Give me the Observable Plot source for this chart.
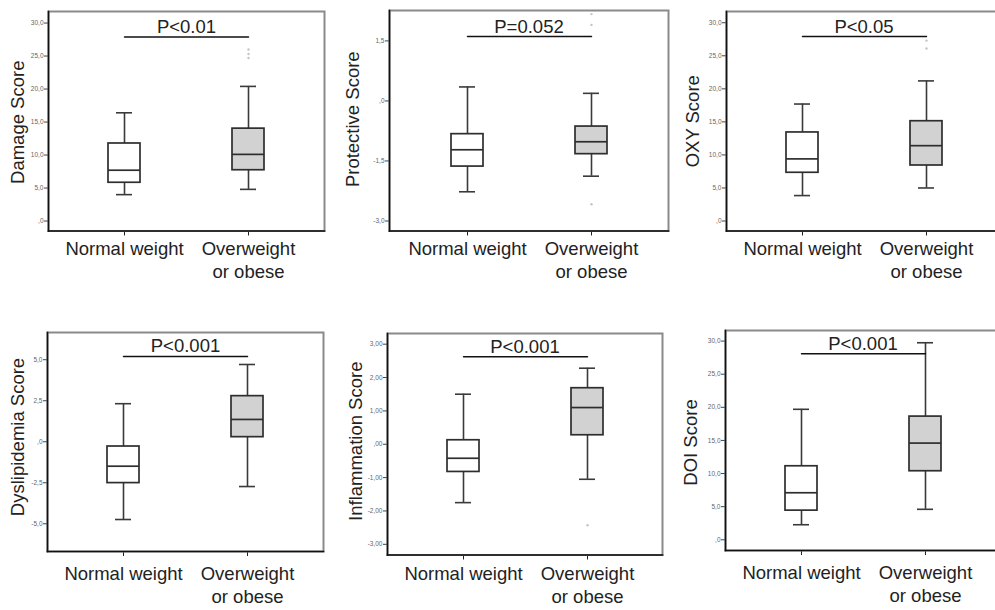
<!DOCTYPE html>
<html><head><meta charset="utf-8">
<script src="https://cdn.jsdelivr.net/npm/d3@7"></script>
<script src="https://cdn.jsdelivr.net/npm/@observablehq/plot@0.6"></script>
<style>
html,body{margin:0;padding:0;background:#fff;}
#wrap{position:relative;width:995px;height:610px;overflow:hidden;font-family:"Liberation Sans",Arial,sans-serif;}
#wrap svg{position:absolute;overflow:visible;}
</style></head><body><div id="wrap"></div>
<script>
// ---- data ----
const groups = ["Normal weight", "Overweight\nor obese"];
const scoreNames = ["Damage Score", "Protective Score", "OXY Score", "Dyslipidemia Score", "Inflammation Score", "DOI Score"];
const pLabels = ["P<0.01", "P=0.052", "P<0.05", "P<0.001", "P<0.001", "P<0.001"];
// [lower whisker, Q1, median, Q3, upper whisker] for Normal weight, Overweight or obese
const damageStats = [[4.0, 5.8, 7.7, 11.75, 16.4], [4.8, 7.7, 10.1, 14.0, 20.4]];
const protectiveStats = [[-2.27, -1.64, -1.22, -0.83, 0.35], [-1.88, -1.33, -1.02, -0.64, 0.19]];
const oxyStats = [[3.85, 7.3, 9.4, 13.4, 17.7], [5.0, 8.4, 11.4, 15.1, 21.2]];
const dyslipidemiaStats = [[-4.74, -2.52, -1.49, -0.29, 2.32], [-2.73, 0.28, 1.36, 2.78, 4.71]];
const inflammationStats = [[-1.75, -0.83, -0.42, 0.12, 1.5], [-1.05, 0.27, 1.1, 1.68, 2.28]];
const doiStats = [[2.27, 4.4, 7.1, 11.1, 19.7], [4.6, 10.35, 14.6, 18.6, 29.75]];
// outliers of the Overweight or obese group
const damageOutliers = [26.0, 25.3, 24.7];
const protectiveOutliers = [2.17, 1.9, -2.58];
const oxyOutliers = [27.3, 26.1];
const dyslipidemiaOutliers = [];
const inflammationOutliers = [-2.43];
const doiOutliers = [];
// y tick values
const ticks0to30 = [0, 5, 10, 15, 20, 25, 30];
const protectiveTicks = [-3, -1.5, 0, 1.5];
const dyslipidemiaTicks = [-5, -2.5, 0, 2.5, 5];
const inflammationTicks = [-3, -2, -1, 0, 1, 2, 3];
// significance bracket heights (data units)
const bracketLevels = [27.9, 1.61, 27.9, 5.2, 2.62, 28.1];

// ---- layout ----
const panels = [
  {stats: damageStats, out: damageOutliers, ticks: ticks0to30, dec: 1, domain: [-1.51, 31.75], x0: 48, x1: 324, y0: 10.5, y1: 230, ldx: 30.5, ldy: 1, cdy: 7.5},
  {stats: protectiveStats, out: protectiveOutliers, ticks: protectiveTicks, dec: 1, domain: [-3.25, 2.26], x0: 389, x1: 668, y0: 9.5, y1: 230, ldx: 36.5, ldy: -1.5, cdy: 7.5},
  {stats: oxyStats, out: oxyOutliers, ticks: ticks0to30, dec: 1, domain: [-1.51, 31.7], x0: 726, x1: 1001, y0: 10.5, y1: 230, ldx: 33.5, ldy: 0, cdy: 7.5},
  {stats: dyslipidemiaStats, out: dyslipidemiaOutliers, ticks: dyslipidemiaTicks, dec: 1, domain: [-6.69, 6.66], x0: 47, x1: 323, y0: 332, y1: 551, ldx: 29.5, ldy: -5, cdy: 12},
  {stats: inflammationStats, out: inflammationOutliers, ticks: inflammationTicks, dec: 2, domain: [-3.32, 3.32], x0: 387, x1: 662, y0: 332.5, y1: 554, ldx: 31.5, ldy: -3, cdy: 9},
  {stats: doiStats, out: doiOutliers, ticks: ticks0to30, dec: 1, domain: [-1.62, 31.6], x0: 725, x1: 1000, y0: 330, y1: 550, ldx: 34, ldy: 2, cdy: 12}
];

function fmt(dec) {
  return v => {
    let s = Math.abs(v).toFixed(dec).replace(".", ",");
    if (s[0] === "0") s = s.slice(1);
    return (v < 0 ? "-" : "") + s;
  };
}

const wrap = document.getElementById("wrap");
const FONT = '"Liberation Sans", Arial, sans-serif';
const mL = 48, mT = 12, mR = 4, mB = 72;

panels.forEach((cfg, k) => {
  const W = cfg.x1 - cfg.x0, H = cfg.y1 - cfg.y0;
  const step = 125, bw = 32;
  const pi = 1 - bw / step;
  const po = (W / step - 2 + pi) / 2;
  const boxes = groups.map((g, i) => ({g, lo: cfg.stats[i][0], q1: cfg.stats[i][1], med: cfg.stats[i][2], q3: cfg.stats[i][3], hi: cfg.stats[i][4]}));
  const outl = cfg.out.map(v => ({g: groups[1], v}));
  const bracket = groups.map(g => ({g, y: bracketLevels[k]}));
  const lineStyle = {stroke: "#3a3a3a", strokeWidth: 1.6};
  const chart = Plot.plot({
    width: mL + W + mR, height: mT + H + mB,
    marginLeft: mL, marginTop: mT, marginRight: mR, marginBottom: mB,
    x: {type: "band", domain: groups, paddingInner: pi, paddingOuter: po},
    y: {domain: cfg.domain},
    color: {domain: groups, range: ["#ffffff", "#d2d2d2"]},
    style: {fontFamily: FONT, fontSize: "6.5px", background: "transparent", overflow: "visible"},
    marks: [
      Plot.axisY({ticks: cfg.ticks, tickFormat: fmt(cfg.dec), tickSize: 4, tickPadding: 1, stroke: "#444", fill: "#666", label: null}),
      Plot.axisX({tickSize: 5, tickFormat: () => "", stroke: "#222", label: null}),
      Plot.ruleX(boxes, {x: "g", y1: "lo", y2: "q1", ...lineStyle}),
      Plot.ruleX(boxes, {x: "g", y1: "q3", y2: "hi", ...lineStyle}),
      Plot.tickY(boxes, {x: "g", y: "lo", insetLeft: 8, insetRight: 8, ...lineStyle}),
      Plot.tickY(boxes, {x: "g", y: "hi", insetLeft: 8, insetRight: 8, ...lineStyle}),
      Plot.barY(boxes, {x: "g", y1: "q1", y2: "q3", fill: "g", stroke: "#2e2e2e", strokeWidth: 1.7}),
      Plot.tickY(boxes, {x: "g", y: "med", stroke: "#2e2e2e", strokeWidth: 1.7}),
      Plot.dot(outl, {x: "g", y: "v", r: 1.2, fill: "#c4c4c4", stroke: null}),
      Plot.lineY(bracket, {x: "g", y: "y", stroke: "#111", strokeWidth: 1.5}),
      Plot.text([pLabels[k]], {y: () => bracketLevels[k], text: d => d, lineAnchor: "bottom", dy: -4, fontSize: 18.5, fill: "#222"}),
      Plot.text(groups, {x: d => d, text: d => d, frameAnchor: "bottom", lineAnchor: "top", dy: cfg.cdy, fontSize: 18.5, lineHeight: 1.24, fill: "#222"}),
      Plot.text([scoreNames[k]], {text: d => d, frameAnchor: "left", textAnchor: "middle", lineAnchor: "middle", rotate: -90, dx: -cfg.ldx, dy: cfg.ldy, fontSize: 18.5, fill: "#222"}),
      Plot.frame({stroke: "#8a8a8a", strokeWidth: 2}),
      Plot.frame({anchor: "left", stroke: "#111", strokeWidth: 1.6}),
      Plot.frame({anchor: "bottom", stroke: "#111", strokeWidth: 1.6})
    ]
  });
  chart.style.left = (cfg.x0 - mL) + "px";
  chart.style.top = (cfg.y0 - mT) + "px";
  wrap.appendChild(chart);
});
</script></body></html>
